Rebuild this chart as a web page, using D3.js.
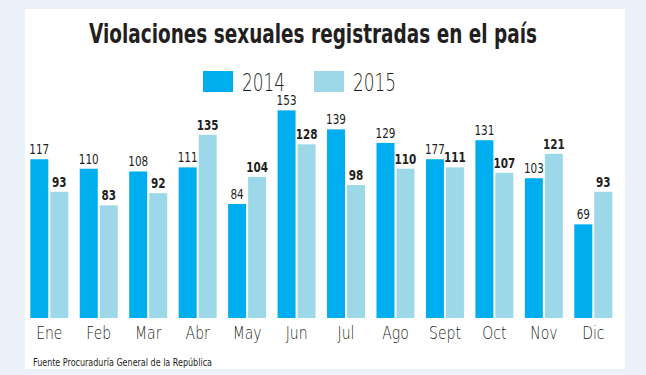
<!DOCTYPE html>
<html>
<head>
<meta charset="utf-8">
<script src="https://cdn.jsdelivr.net/npm/d3@7"></script>
<style>
  body { margin: 0; background: #ebf1f9; }
  svg { display: block; }
  text { font-family: "DejaVu Sans Condensed", "DejaVu Sans", sans-serif; fill: #231f20; }
  .light { font-family: "DejaVu Sans", sans-serif; font-weight: 200; }
</style>
</head>
<body>
<div id="chart"></div>
<script>
const months = ["Ene", "Feb", "Mar", "Abr", "May", "Jun", "Jul", "Ago", "Sept", "Oct", "Nov", "Dic"];
const series = ["2014", "2015"];
const values2014 = [117, 110, 108, 111, 84, 153, 139, 129, 117, 131, 103, 69];
const values2015 = [93, 83, 92, 135, 104, 128, 98, 110, 111, 107, 121, 93];
// printed labels, the source shows "177" over the Sept 2014 bar
const labels2014 = ["117", "110", "108", "111", "84", "153", "139", "129", "177", "131", "103", "69"];
const labels2015 = values2015.map(String);
const colors = {"2014": "#00aeef", "2015": "#9dd8e9"};

const W = 646, H = 375;

const svg = d3.select("#chart")
  .append("svg")
    .attr("width", W)
    .attr("height", H);

// white card
svg.append("rect")
    .attr("x", 25).attr("y", 9)
    .attr("width", 600).attr("height", 360)
    .attr("fill", "#fff");

svg.append("text")
    .attr("x", 313).attr("y", 43)
    .attr("text-anchor", "middle")
    .attr("font-size", 27)
    .attr("font-weight", "bold")
    .attr("textLength", 448)
    .attr("lengthAdjust", "spacingAndGlyphs")
    .text("Violaciones sexuales registradas en el país");

// legend
const legend = svg.append("g");
series.forEach((s, i) => {
  const g = legend.append("g").attr("transform", `translate(${203 + i * 111}, 71)`);
  g.append("rect")
      .attr("width", 30).attr("height", 21)
      .attr("fill", colors[s]);
  g.append("text")
      .attr("class", "light")
      .attr("x", 39).attr("y", 20)
      .attr("font-size", 25)
      .attr("fill", "#333")
      .attr("textLength", 43)
      .attr("lengthAdjust", "spacingAndGlyphs")
      .text(s);
});

const x = d3.scaleBand()
    .domain(months)
    .range([30.3, 612.3])
    .paddingInner(0.2316)
    .paddingOuter(0);
const xs = d3.scaleBand()
    .domain(series)
    .range([0, x.bandwidth()])
    .paddingInner(0.1);
const y = d3.scaleLinear()
    .domain([0, 160])
    .range([318, 318 - 160 * 1.357]);

const data = months.map((m, i) => ({
  month: m,
  vals: [
    {s: "2014", v: values2014[i], label: labels2014[i]},
    {s: "2015", v: values2015[i], label: labels2015[i]}
  ]
}));

const groups = svg.append("g")
  .selectAll("g")
  .data(data)
  .join("g")
    .attr("transform", d => `translate(${x(d.month)}, 0)`);

groups.selectAll("rect")
  .data(d => d.vals)
  .join("rect")
    .attr("x", d => xs(d.s))
    .attr("y", d => y(d.v))
    .attr("width", xs.bandwidth())
    .attr("height", d => y(0) - y(d.v))
    .attr("fill", d => colors[d.s]);

groups.selectAll("text.val")
  .data(d => d.vals)
  .join("text")
    .attr("class", "val")
    .attr("transform", d => `translate(${xs(d.s) + xs.bandwidth() / 2}, ${y(d.v) - 5}) scale(0.8, 1)`)
    .attr("text-anchor", "middle")
    .attr("font-size", 14.5)
    .attr("font-weight", d => d.s === "2015" ? "bold" : "normal")
    .text(d => d.label);

// month axis, no line or ticks
const xAxis = svg.append("g")
    .attr("transform", "translate(0, 318)")
    .call(d3.axisBottom(x).tickSize(0));
xAxis.select(".domain").remove();
xAxis.selectAll("text")
    .attr("class", "light")
    .attr("y", null).attr("dy", null)
    .attr("transform", "translate(0, 21) scale(0.8, 1)")
    .attr("font-size", 17.5)
    .attr("fill", "#333")
    .style("font-family", null);
xAxis.attr("font-family", null).attr("font-size", null);

svg.append("text")
    .attr("x", 33).attr("y", 366)
    .attr("font-size", 10.5)
    .attr("fill", "#555")
    .attr("textLength", 179)
    .attr("lengthAdjust", "spacingAndGlyphs")
    .text("Fuente Procuraduría General de la República");
</script>
</body>
</html>
